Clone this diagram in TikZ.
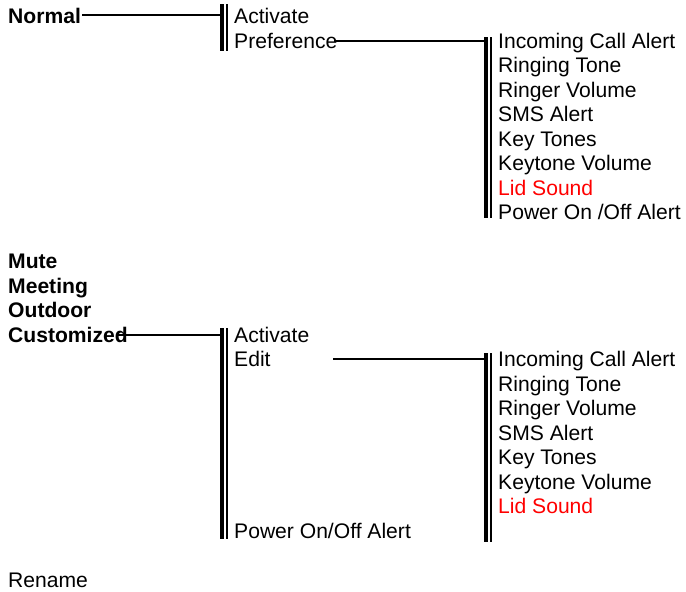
\documentclass[tikz,border=0pt]{standalone}
\usepackage{fontspec}
\setmainfont{Liberation Sans}
\begin{document}
\begin{tikzpicture}[x=1pt,y=-1pt,
  lbl/.style={anchor=base west,inner sep=0pt,font=\fontsize{21.1}{24}\selectfont},
  head/.style={lbl,font=\fontsize{21.1}{24}\selectfont\bfseries},
  red lbl/.style={lbl,text=red},
  link/.style={line width=1.5pt},
  thickbar/.style={line width=4pt},
  thinbar/.style={line width=1.5pt}]
\useasboundingbox (0,0) rectangle (686,592);
% headings
\node[head] (normal) at (8,23) {Normal};
\node[head] (mute) at (8,268) {Mute};
\node[head] (meeting) at (8,293) {Meeting};
\node[head] (outdoor) at (8,317) {Outdoor};
\node[head] (custom) at (8,342) {Customized};
\node[lbl] (rename) at (8,587) {Rename};
% first level lists
\node[lbl] (act1) at (234,23) {Activate};
\node[lbl] (pref) at (234,48) {Preference};
\node[lbl] (act2) at (234,342) {Activate};
\node[lbl] (edit) at (234,366) {Edit};
\node[lbl] (pow2) at (234,538) {Power On/Off Alert};
% second level list 1
\foreach \t/\y/\n in {Incoming Call Alert/48/a1,Ringing Tone/72/a2,Ringer Volume/97/a3,SMS Alert/121/a4,Key Tones/146/a5,Keytone Volume/170/a6}
  \node[lbl] (\n) at (498,\y) {\t};
\node[red lbl] (a7) at (498,195) {Lid Sound};
\node[lbl] (a8) at (498,219) {Power On /Off Alert};
% second level list 2
\foreach \t/\y/\n in {Incoming Call Alert/366/b1,Ringing Tone/391/b2,Ringer Volume/415/b3,SMS Alert/440/b4,Key Tones/464/b5,Keytone Volume/489/b6}
  \node[lbl] (\n) at (498,\y) {\t};
\node[red lbl] (b7) at (498,513) {Lid Sound};
% brackets
\coordinate (br1t) at (222,4);   \coordinate (br1b) at (222,51);
\coordinate (br2t) at (486,37);  \coordinate (br2b) at (486,218);
\coordinate (br3t) at (222,328); \coordinate (br3b) at (222,539);
\coordinate (br4t) at (486,353); \coordinate (br4b) at (486,542);
\foreach \t/\b in {br1t/br1b,br2t/br2b,br3t/br3b,br4t/br4b}{
  \draw[thickbar] (\t) -- (\b);
  \draw[thinbar] ([xshift=5pt]\t) -- ([xshift=5pt]\b);
}
% connectors
\coordinate (n1) at (82,15);
\draw[link] (n1) -- (br1t |- n1);
\coordinate (p1) at (334,41);
\draw[link] (p1) -- (br2t |- p1);
\coordinate (c1) at (116,335);
\draw[link] (c1) -- (br3t |- c1);
\coordinate (e1) at (333,359);
\draw[link] (e1) -- (br4t |- e1);
\end{tikzpicture}
\end{document}
